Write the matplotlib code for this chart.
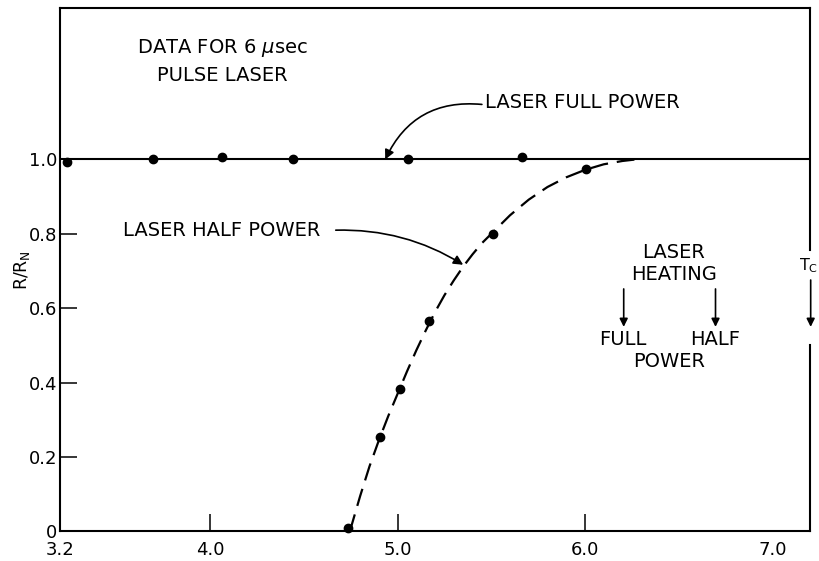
import matplotlib
matplotlib.use("Agg")
import matplotlib.pyplot as plt

# ---- data ----
full_x = [3.233, 3.695, 4.064, 4.441, 5.053, 5.663]
full_y = [0.994, 1.000, 1.006, 1.002, 1.002, 1.006]

half_x = [4.737, 4.906, 5.013, 5.169, 5.511, 6.007]
half_y = [0.010, 0.255, 0.382, 0.566, 0.800, 0.974]

# hand-drawn dashed guide curve through the half-power data
curve_x = [4.745, 4.80, 4.85, 4.90, 4.95, 5.00, 5.05, 5.10, 5.15, 5.20, 5.25,
           5.30, 5.35, 5.40, 5.45, 5.50, 5.60, 5.70, 5.80, 5.90, 6.00, 6.10,
           6.20, 6.27]
curve_y = [0.000, 0.095, 0.175, 0.245, 0.310, 0.370, 0.430, 0.487, 0.540, 0.590, 0.635,
           0.675, 0.712, 0.745, 0.775, 0.800, 0.850, 0.892, 0.926, 0.952, 0.972, 0.987,
           0.996, 1.000]

xticks = [3.2, 4.0, 5.0, 6.0, 7.0]
xticklabels = ["3.2", "4.0", "5.0", "6.0", "7.0"]
yticks = [0, 0.2, 0.4, 0.6, 0.8, 1.0]
yticklabels = ["0", "0.2", "0.4", "0.6", "0.8", "1.0"]

XMIN, XMAX = 3.2, 7.2
YMIN, YMAX = 0.0, 1.407
TC = 7.2

FS = 14
plt.rcParams['font.family'] = ['DejaVu Sans']
fig = plt.figure(figsize=(8.19, 5.61), dpi=100)
ax = fig.add_axes([0.0737, 0.0526, 0.915, 0.933])

ax.set_xlim(XMIN, XMAX)
ax.set_ylim(YMIN, YMAX)

# full power line and points
ax.axhline(1.0, color='black', lw=1.5, zorder=2)
ax.plot(full_x, full_y, 'o', color='black', ms=6, zorder=3, clip_on=False)

# half power dashed curve and points
ax.plot(curve_x, curve_y, color='black', lw=1.6, dashes=(8, 4), zorder=2)
ax.plot(half_x, half_y, 'o', color='black', ms=6, zorder=3, clip_on=False)

# spines
for s in ['left', 'bottom', 'top']:
    ax.spines[s].set_linewidth(1.5)
ax.spines['right'].set_visible(False)
# Tc line drawn as right border with a gap
ax.plot([TC, TC], [0.757, YMAX], color='black', lw=1.5, clip_on=False)
ax.plot([TC, TC], [0.0, 0.501], color='black', lw=1.5, clip_on=False)
ax.annotate('', xy=(TC + 0.005, 0.55), xytext=(TC + 0.005, 0.676),
            arrowprops=dict(arrowstyle='-|>', color='black', lw=1.2,
                            mutation_scale=12, shrinkA=0, shrinkB=0),
            annotation_clip=False)
fig.text(0.9995, 0.5265, r'T$_\mathrm{C}$', fontsize=11.5, ha='right', va='center')

# ticks
ax.set_xticks(xticks)
ax.set_xticklabels(xticklabels, fontsize=13)
ax.set_yticks(yticks)
ax.set_yticklabels(yticklabels, fontsize=13)
ax.tick_params(axis='both', direction='in', length=12, width=1.1, color='black')
ax.tick_params(axis='x', pad=7)
ax.tick_params(axis='y', pad=2)
for i in (0, 4):
    ax.xaxis.get_major_ticks()[i].tick1line.set_visible(False)

ax.set_ylabel(r'R/R$_\mathrm{N}$', fontsize=12.5, labelpad=-2)

# annotations
ax.text(4.066, 1.30, r'DATA FOR 6 $\mu$sec', fontsize=FS, ha='center', va='center')
ax.text(4.066, 1.227, 'PULSE LASER', fontsize=FS, ha='center', va='center')

ax.text(5.467, 1.152, 'LASER FULL POWER', fontsize=FS, ha='left', va='center')
ax.annotate('', xy=(4.934, 1.0), xytext=(5.45, 1.148),
            arrowprops=dict(arrowstyle='-|>', color='black', lw=1.2,
                            mutation_scale=14, shrinkA=0, shrinkB=0,
                            connectionstyle='arc3,rad=0.35'))

ax.text(3.533, 0.81, 'LASER HALF POWER', fontsize=FS, ha='left', va='center')
ax.annotate('', xy=(5.35, 0.717), xytext=(4.67, 0.81),
            arrowprops=dict(arrowstyle='-|>', color='black', lw=1.2,
                            mutation_scale=14, shrinkA=0, shrinkB=0,
                            connectionstyle='arc3,rad=-0.15'))

ax.text(6.474, 0.751, 'LASER', fontsize=FS, ha='center', va='center')
ax.text(6.474, 0.69, 'HEATING', fontsize=FS, ha='center', va='center')
for xa in (6.207, 6.697):
    ax.annotate('', xy=(xa, 0.55), xytext=(xa, 0.652),
                arrowprops=dict(arrowstyle='-|>', color='black', lw=1.2,
                                mutation_scale=12, shrinkA=0, shrinkB=0))
ax.text(6.202, 0.517, 'FULL', fontsize=FS, ha='center', va='center')
ax.text(6.697, 0.517, 'HALF', fontsize=FS, ha='center', va='center')
ax.text(6.447, 0.458, 'POWER', fontsize=FS, ha='center', va='center')

fig.savefig('out.png', dpi=100)
